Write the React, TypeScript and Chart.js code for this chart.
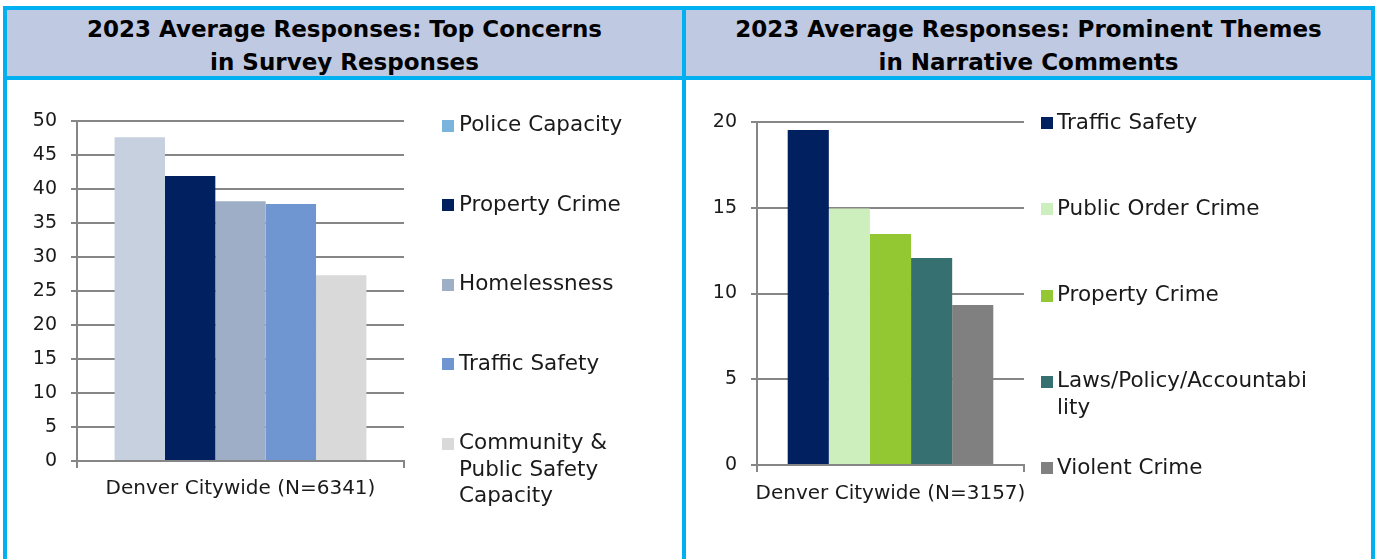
import React, { useEffect, useRef } from "react";
import { Chart, registerables } from "chart.js";

Chart.register(...registerables);

// ---------- data ----------
const leftTitle = ["2023 Average Responses: Top Concerns", "in Survey Responses"];
const rightTitle = ["2023 Average Responses: Prominent Themes", "in Narrative Comments"];

const leftCategories = ["Denver Citywide (N=6341)"];
const leftSeries = ["Police Capacity", "Property Crime", "Homelessness", "Traffic Safety", "Community & Public Safety Capacity"];
const leftValues = [47.6, 41.9, 38.2, 37.8, 27.3];
const leftLegendLines = [["Police Capacity"], ["Property Crime"], ["Homelessness"], ["Traffic Safety"], ["Community &", "Public Safety", "Capacity"]];
const leftBarColors = ["#C6D0DE", "#002060", "#9DAEC6", "#7096D2", "#D9D9D9"];
const leftLegendColors = ["#7AB4DC", "#002060", "#9DAEC6", "#7096D2", "#D9D9D9"];
const leftTicks = [0, 5, 10, 15, 20, 25, 30, 35, 40, 45, 50];

const rightCategories = ["Denver Citywide (N=3157)"];
const rightSeries = ["Traffic Safety", "Public Order Crime", "Property Crime", "Laws/Policy/Accountability", "Violent Crime"];
const rightValues = [19.53, 14.95, 13.47, 12.07, 9.33];
const rightLegendLines = [["Traffic Safety"], ["Public Order Crime"], ["Property Crime"], ["Laws/Policy/Accountabi", "lity"], ["Violent Crime"]];
const rightBarColors = ["#002060", "#CDEFBE", "#93C832", "#367070", "#808080"];
const rightLegendColors = ["#002060", "#CDEFBE", "#93C832", "#367070", "#808080"];
const rightTicks = [0, 5, 10, 15, 20];

// ---------- styles ----------
const FONT = "'DejaVu Sans', 'Noto Sans', sans-serif";
const GRID = "#868686";
const TEXT = "#1a1a1a";
const CYAN = "#00B0F0";
const HEAD = "#BFC9E1";

const sideLegend = {
  id: "sideLegend",
  afterDraw(chart: any, _args: any, opts: any) {
    const ctx = chart.ctx;
    ctx.save();
    ctx.font = opts.font;
    ctx.textBaseline = "middle";
    ctx.textAlign = "left";
    opts.items.forEach((it: any, i: number) => {
      const cy = opts.y + i * opts.step;
      ctx.fillStyle = it.color;
      ctx.fillRect(opts.boxX, Math.round(cy - opts.box / 2), opts.box, opts.box);
      ctx.fillStyle = opts.color;
      it.lines.forEach((ln: string, j: number) => {
        ctx.fillText(ln, opts.textX, cy + j * opts.lineHeight);
      });
    });
    ctx.restore();
  },
};

function makeConfig(p: any) {
  const tmin = p.ticks[0];
  const tmax = p.ticks[p.ticks.length - 1];
  const step = p.ticks[1] - p.ticks[0];
  return {
    type: "bar",
    data: {
      labels: p.categories,
      datasets: p.series.map((name: string, i: number) => ({
        label: name,
        data: [p.values[i]],
        backgroundColor: p.barColors[i],
        borderWidth: 0,
        categoryPercentage: 0.77,
        barPercentage: 1,
      })),
    },
    plugins: [sideLegend],
    options: {
      animation: false,
      responsive: false,
      maintainAspectRatio: false,
      events: [],
      layout: { padding: { left: 0, top: p.padTop, right: p.padRight, bottom: 0 } },
      plugins: {
        legend: { display: false },
        tooltip: { enabled: false },
        sideLegend: {
          font: `21.5px ${FONT}`,
          color: TEXT,
          boxX: p.legend.boxX,
          textX: p.legend.textX,
          y: p.legend.y,
          step: p.legend.step,
          box: 12,
          lineHeight: p.legend.lineHeight,
          items: p.legendLines.map((lines: string[], i: number) => ({ lines, color: p.legendColors[i] })),
        },
      },
      scales: {
        x: {
          grid: { display: true, drawOnChartArea: false, drawTicks: true, tickLength: 7, color: GRID, lineWidth: 2, offset: true },
          border: { display: true, color: GRID, width: 2 },
          ticks: { color: TEXT, font: { family: FONT, size: 20 }, padding: p.xPad, maxRotation: 0 },
          afterFit: (s: any) => { s.height = p.xHeight; },
        },
        y: {
          min: tmin,
          max: tmax,
          ticks: { stepSize: step, color: TEXT, font: { family: FONT, size: 19 }, padding: 14 },
          grid: { color: GRID, lineWidth: 2, tickLength: 6, drawTicks: true },
          border: { display: true, color: GRID, width: 2 },
          afterFit: (s: any) => { s.width = p.yWidth; },
        },
      },
    },
  };
}

function BarPanel(props: { cfg: any; left: number; width: number }) {
  const ref = useRef<HTMLCanvasElement | null>(null);
  useEffect(() => {
    if (!ref.current) return;
    const chart = new Chart(ref.current, makeConfig(props.cfg) as any);
    return () => chart.destroy();
  }, []);
  return (
    <canvas
      ref={ref}
      width={props.width}
      height={479}
      style={{ position: "absolute", left: props.left, top: 80, width: props.width, height: 479 }}
    />
  );
}

function Header(props: { left: number; width: number; lines: string[] }) {
  return (
    <div style={{ position: "absolute", left: props.left, top: 10, width: props.width, height: 66, background: HEAD }}>
      {props.lines.map((t, i) => (
        <div
          key={i}
          style={{
            position: "absolute",
            left: 0,
            width: props.width,
            top: 2 + i * 33,
            height: 34,
            lineHeight: "34px",
            textAlign: "center",
            fontFamily: "'DejaVu Sans', sans-serif",
            fontWeight: 700,
            fontSize: 23,
            color: "#000",
            whiteSpace: "nowrap",
          }}
        >
          {t}
        </div>
      ))}
    </div>
  );
}

export default function App() {
  const leftCfg = {
    categories: leftCategories,
    series: leftSeries,
    values: leftValues,
    barColors: leftBarColors,
    legendColors: leftLegendColors,
    legendLines: leftLegendLines,
    ticks: leftTicks,
    padTop: 41,
    padRight: 278,
    xHeight: 98,
    yWidth: 70,
    xPad: 9,
    legend: { boxX: 435, textX: 452, y: 45.5, step: 79.6, lineHeight: 26.5 },
  };
  const rightCfg = {
    categories: rightCategories,
    series: rightSeries,
    values: rightValues,
    barColors: rightBarColors,
    legendColors: rightLegendColors,
    legendLines: rightLegendLines,
    ticks: rightTicks,
    padTop: 42,
    padRight: 347,
    xHeight: 94,
    yWidth: 71,
    xPad: 10,
    legend: { boxX: 355, textX: 371, y: 43, step: 86.25, lineHeight: 27 },
  };
  const bar = (l: number, t: number, w: number, h: number) => (
    <div style={{ position: "absolute", left: l, top: t, width: w, height: h, background: CYAN }} />
  );
  return (
    <div style={{ position: "absolute", left: 0, top: 0, width: 1379, height: 559, background: "#fff", overflow: "hidden" }}>
      <Header left={7} width={675} lines={leftTitle} />
      <Header left={686} width={685} lines={rightTitle} />
      <BarPanel cfg={leftCfg} left={7} width={675} />
      <BarPanel cfg={rightCfg} left={686} width={685} />
      {bar(3, 6, 1372, 4)}
      {bar(3, 76, 1372, 4)}
      {bar(3, 6, 4, 553)}
      {bar(682, 6, 4, 553)}
      {bar(1371, 6, 4, 553)}
    </div>
  );
}
